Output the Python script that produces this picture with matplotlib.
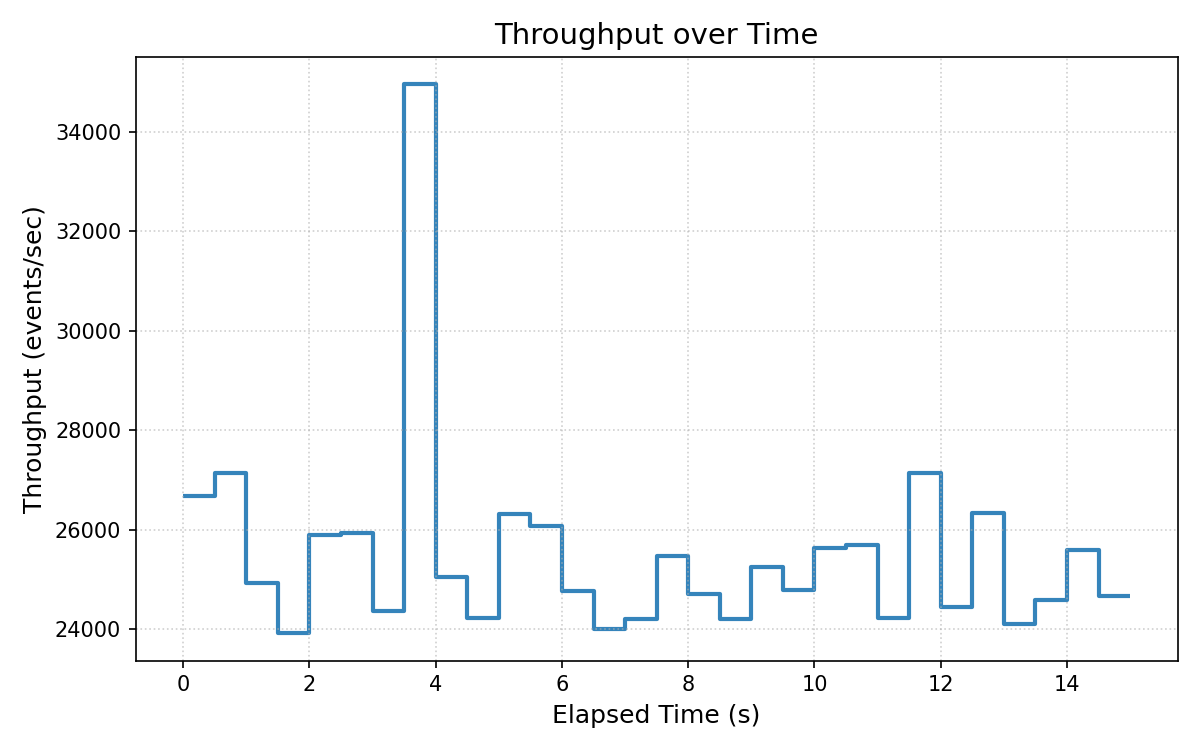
import numpy as np
import matplotlib
matplotlib.use('Agg')
import matplotlib.pyplot as plt

# throughput per 0.5 s bin
elapsed = np.arange(0, 15.5, 0.5)
throughput = [26680, 27130, 24920, 23915, 25890, 25930, 24370, 34960,
              25040, 24210, 26320, 26070, 24760, 23990, 24190, 25460,
              24710, 24190, 25240, 24780, 25630, 25690, 24210, 27140,
              24450, 26330, 24100, 24590, 25580, 24670]

fig, ax = plt.subplots(figsize=(8, 5), dpi=150)

ax.stairs(throughput, elapsed, baseline=None, color='tab:blue', alpha=0.9,
          linewidth=2, joinstyle='round', capstyle='butt')

ax.set_title('Throughput over Time', fontsize=14)
ax.set_xlabel('Elapsed Time (s)', fontsize=12)
ax.set_ylabel('Throughput (events/sec)', fontsize=12)
ax.tick_params(labelsize=10)
ax.grid(True, linestyle=':', alpha=0.6)

plt.tight_layout()
plt.savefig('out.png')
